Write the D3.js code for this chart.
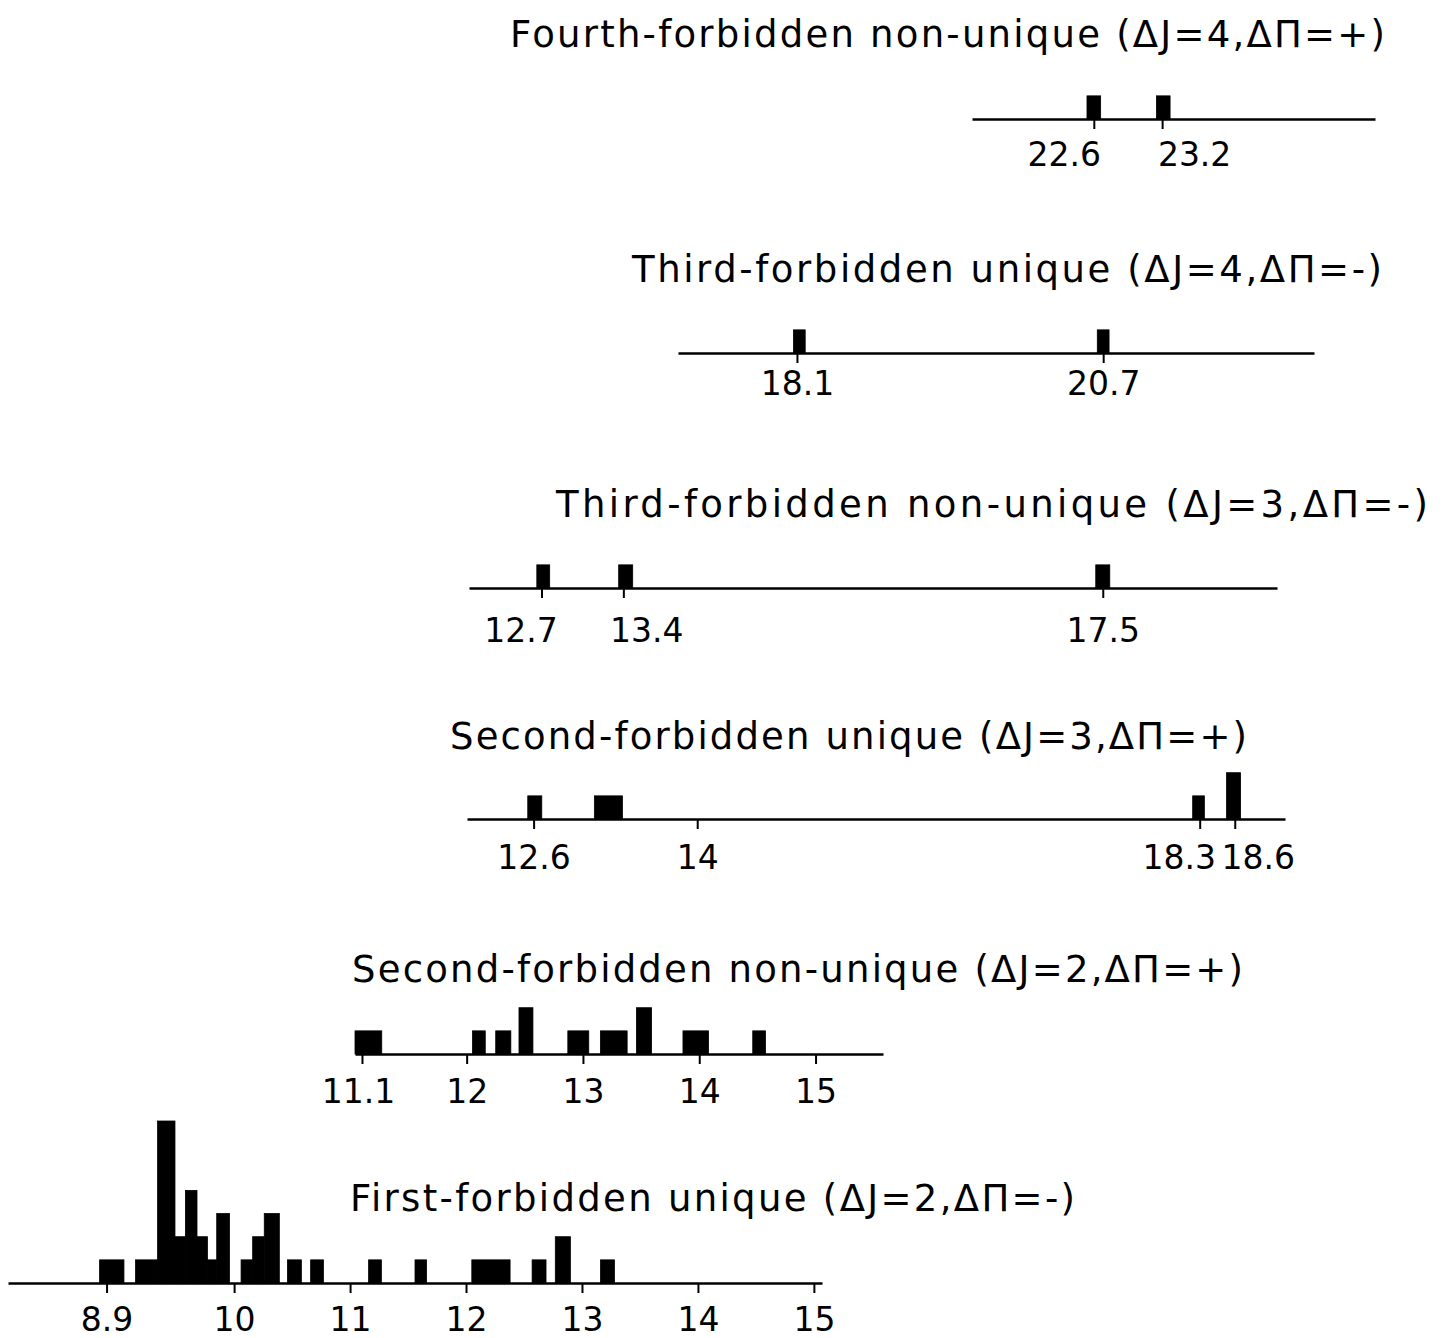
<!DOCTYPE html>
<html>
<head>
<meta charset="utf-8">
<script src="https://cdn.jsdelivr.net/npm/d3@7"></script>
<style>
  html, body { margin: 0; padding: 0; background: #fff; }
  svg { display: block; }
</style>
</head>
<body>
<script>
// ---------------- DATA (log ft intervals and counts) ----------------
const titles = [
  "Fourth-forbidden non-unique (ΔJ=4,ΔΠ=+)",
  "Third-forbidden unique (ΔJ=4,ΔΠ=-)",
  "Third-forbidden non-unique (ΔJ=3,ΔΠ=-)",
  "Second-forbidden unique (ΔJ=3,ΔΠ=+)",
  "Second-forbidden non-unique (ΔJ=2,ΔΠ=+)",
  "First-forbidden unique (ΔJ=2,ΔΠ=-)"
];

// Fourth-forbidden non-unique
const fourthNU_lo = [22.54, 23.15];
const fourthNU_hi = [22.66, 23.27];
const fourthNU_n  = [1, 1];
const fourthNU_ticks = [22.6, 23.2];
const fourthNU_labels = ["22.6", "23.2"];

// Third-forbidden unique
const thirdU_lo = [18.07, 20.65];
const thirdU_hi = [18.17, 20.75];
const thirdU_n  = [1, 1];
const thirdU_ticks = [18.1, 20.7];
const thirdU_labels = ["18.1", "20.7"];

// Third-forbidden non-unique
const thirdNU_lo = [12.66, 13.36, 17.44];
const thirdNU_hi = [12.77, 13.48, 17.56];
const thirdNU_n  = [1, 1, 1];
const thirdNU_ticks = [12.7, 13.4, 17.5];
const thirdNU_labels = ["12.7", "13.4", "17.5"];

// Second-forbidden unique
const secondU_lo = [12.55, 13.12, 18.24, 18.53];
const secondU_hi = [12.67, 13.36, 18.34, 18.65];
const secondU_n  = [1, 1, 1, 2];
const secondU_ticks = [12.6, 14, 18.3, 18.6];
const secondU_labels = ["12.6", "14", "18.3", "18.6"];

// Second-forbidden non-unique
const secondNU_lo = [11.04, 12.05, 12.25, 12.45, 12.87, 13.15, 13.46, 13.86, 14.46];
const secondNU_hi = [11.27, 12.16, 12.38, 12.57, 13.05, 13.38, 13.59, 14.08, 14.57];
const secondNU_n  = [1, 1, 1, 2, 1, 1, 2, 1, 1];
const secondNU_ticks = [11.1, 12, 13, 14, 15];
const secondNU_labels = ["11.1", "12", "13", "14", "15"];

// First-forbidden unique
const firstU_lo = [8.84, 9.15, 9.34, 9.49, 9.58, 9.68, 9.77, 9.85, 10.06, 10.16, 10.26, 10.46, 10.66, 11.16, 11.56, 12.05, 12.57, 12.77, 13.16];
const firstU_hi = [9.05, 9.34, 9.49, 9.58, 9.68, 9.77, 9.85, 9.96, 10.16, 10.26, 10.39, 10.58, 10.77, 11.27, 11.66, 12.38, 12.69, 12.90, 13.28];
const firstU_n  = [1, 1, 7, 2, 4, 2, 1, 3, 1, 2, 3, 1, 1, 1, 1, 1, 1, 2, 1];
const firstU_ticks = [8.9, 10, 11, 12, 13, 14, 15];
const firstU_labels = ["8.9", "10", "11", "12", "13", "14", "15"];

// ---------------- LAYOUT ----------------
const W = 1446, H = 1338;
const FONT = "'DejaVu Sans', 'Liberation Sans', sans-serif";

const panels = [
  { title: titles[0], tx: 510, tw: 875, ty: 47,  axisY: 119,  domain: [21.53, 25.07], range: [972, 1375],
    lo: fourthNU_lo, hi: fourthNU_hi, n: fourthNU_n, ticks: fourthNU_ticks, labels: fourthNU_labels,
    labY: 47, labDx: [-30, 32] },
  { title: titles[1], tx: 632, tw: 750, ty: 282, axisY: 353,  domain: [17.09, 22.49], range: [678, 1314],
    lo: thirdU_lo, hi: thirdU_hi, n: thirdU_n, ticks: thirdU_ticks, labels: thirdU_labels,
    labY: 42, labDx: [0, 0] },
  { title: titles[2], tx: 556, tw: 872, ty: 517, axisY: 588,  domain: [12.08, 18.99], range: [469, 1277],
    lo: thirdNU_lo, hi: thirdNU_hi, n: thirdNU_n, ticks: thirdNU_ticks, labels: thirdNU_labels,
    labY: 54, labDx: [-21, 23, 0] },
  { title: titles[3], tx: 450, tw: 797, ty: 749, axisY: 819,  domain: [12.03, 19.03], range: [467, 1285],
    lo: secondU_lo, hi: secondU_hi, n: secondU_n, ticks: secondU_ticks, labels: secondU_labels,
    labY: 50, labDx: [0, 0, -21, 23] },
  { title: titles[4], tx: 352, tw: 891, ty: 982, axisY: 1054, domain: [11.04, 15.58], range: [355, 883],
    lo: secondNU_lo, hi: secondNU_hi, n: secondNU_n, ticks: secondNU_ticks, labels: secondNU_labels,
    labY: 49, labDx: [-4, 0, 0, 0, 0] },
  { title: titles[5], tx: 350, tw: 725, ty: 1211, axisY: 1283, domain: [8.05, 15.07], range: [8, 822],
    lo: firstU_lo, hi: firstU_hi, n: firstU_n, ticks: firstU_ticks, labels: firstU_labels,
    labY: 48, labDx: [0, 0, 0, 0, 0, 0, 0] }
];

const svg = d3.select("body").append("svg")
  .attr("width", W).attr("height", H)
  .attr("viewBox", `0 0 ${W} ${H}`);

svg.append("rect").attr("width", W).attr("height", H).attr("fill", "#fff");

// common count scale (bar height per number of transitions)
const hScale = d3.scaleLinear().domain([0, 7]).range([0, 162]);

panels.forEach(p => {
  const x = d3.scaleLinear().domain(p.domain).range(p.range);
  const g = svg.append("g");

  // title
  g.append("text")
    .attr("x", p.tx).attr("y", p.ty)
    .attr("textLength", p.tw).attr("lengthAdjust", "spacing")
    .attr("font-family", FONT).attr("font-size", 37)
    .attr("fill", "#000")
    .text(p.title);

  // bars
  const bars = p.lo.map((lo, i) => ({ lo, hi: p.hi[i], n: p.n[i] }));
  g.selectAll("rect.bar").data(bars).join("rect")
    .attr("class", "bar")
    .attr("x", d => x(d.lo))
    .attr("width", d => x(d.hi) - x(d.lo))
    .attr("y", d => p.axisY - hScale(d.n))
    .attr("height", d => hScale(d.n))
    .attr("fill", "#000")
    .attr("stroke", "#000")
    .attr("stroke-width", 0.8);

  // axis
  const axis = d3.axisBottom(x)
    .tickValues(p.ticks)
    .tickSize(10)
    .tickSizeOuter(0)
    .tickFormat((d, i) => p.labels[i]);

  const ag = g.append("g").attr("transform", `translate(0,${p.axisY})`).call(axis);
  ag.attr("font-family", FONT).attr("font-size", 33);
  ag.select(".domain").attr("stroke", "#000").attr("stroke-width", 2.4);
  ag.selectAll(".tick line").attr("stroke", "#000").attr("stroke-width", 2);
  ag.selectAll(".tick text")
    .attr("font-family", FONT)
    .attr("font-size", 33)
    .attr("fill", "#000")
    .attr("dy", null)
    .attr("y", p.labY)
    .attr("x", (d, i) => p.labDx[i]);
});
</script>
</body>
</html>
